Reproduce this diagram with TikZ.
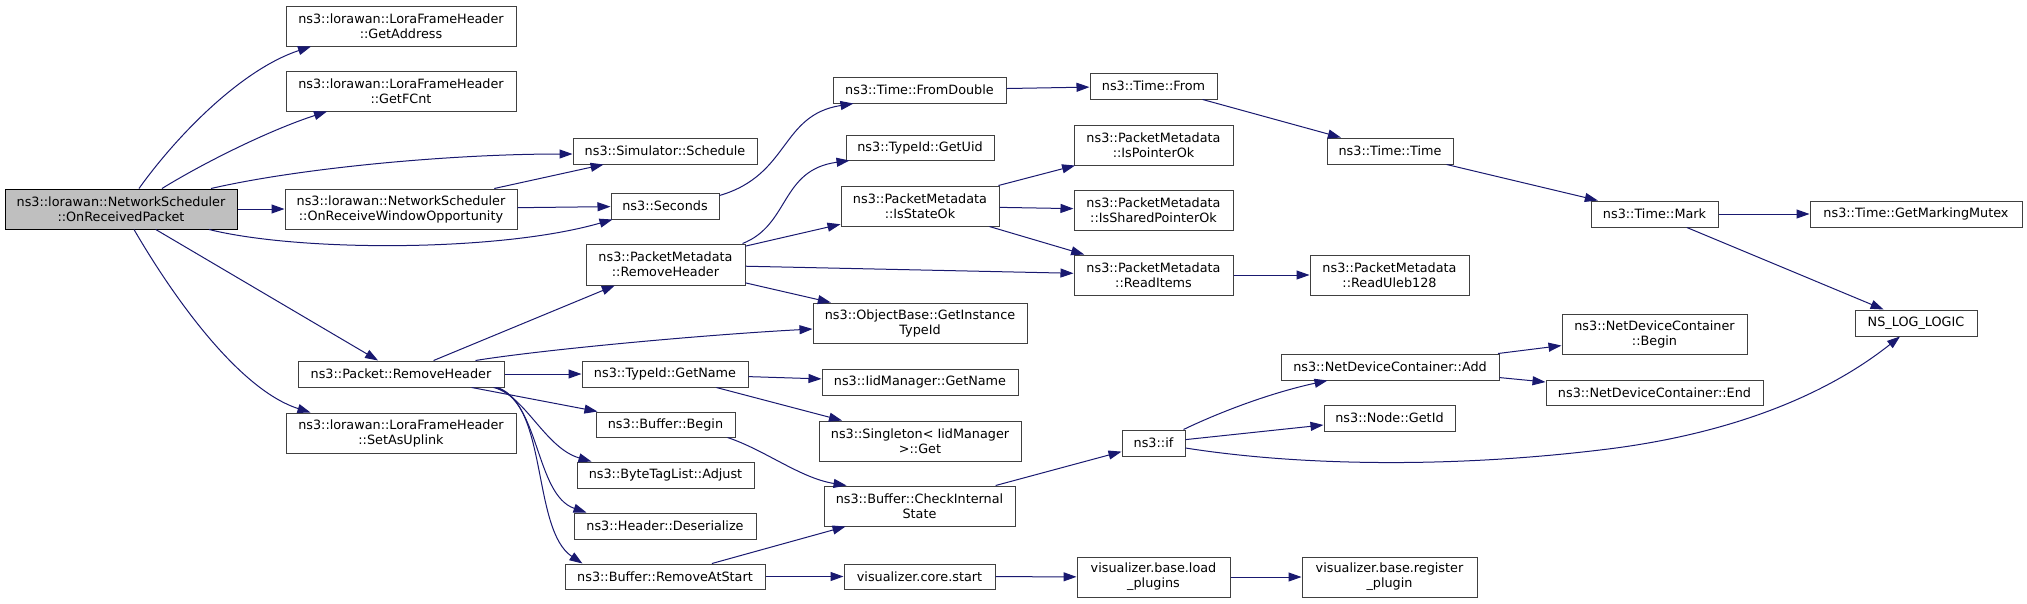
\documentclass[tikz,border=0pt]{standalone}
\usepackage{fontspec}
\setmainfont{DejaVu Sans}
\usetikzlibrary{arrows.meta}
\definecolor{edgec}{HTML}{191970}
\definecolor{boxc}{HTML}{404040}
\definecolor{rootc}{HTML}{BFBFBF}
\newcommand\nfont{\fontsize{12.8}{15}\selectfont}
\newcommand\mkbox[7][]{\node[box,#1,minimum width={#5-#3},minimum height={#6-#4}] (#2) at ({(#3+#5)/2},{(#4+#6)/2}) {#7};}
\tikzset{
  box/.style={draw=boxc, line width=1pt, fill=white, inner sep=0pt, align=center, font=\nfont},
  rootbox/.style={draw=black, fill=rootc},
  edge/.style={draw=edgec, line width=1pt, -{Triangle[length=13pt,width=9pt]}, edgec}
}
\begin{document}
\begin{tikzpicture}[x=1pt,y=-1pt]
\useasboundingbox[fill=white] (0,0) rectangle (2027,603);
% nodes
\mkbox[rootbox]{orp}{5}{189}{237}{229}{ns3::lorawan::NetworkScheduler\\::OnReceivedPacket}
\mkbox{addr}{286}{6}{516}{46}{ns3::lorawan::LoraFrameHeader\\::GetAddress}
\mkbox{fcnt}{286}{71}{516}{111}{ns3::lorawan::LoraFrameHeader\\::GetFCnt}
\mkbox{rwo}{285}{189}{517}{229}{ns3::lorawan::NetworkScheduler\\::OnReceiveWindowOpportunity}
\mkbox{prh}{298}{361}{504}{387}{ns3::Packet::RemoveHeader}
\mkbox{upl}{286}{413}{516}{453}{ns3::lorawan::LoraFrameHeader\\::SetAsUplink}
\mkbox{sched}{573}{138}{757}{164}{ns3::Simulator::Schedule}
\mkbox{sec}{611}{193}{719}{219}{ns3::Seconds}
\mkbox{pmrh}{586}{244}{745}{285}{ns3::PacketMetadata\\::RemoveHeader}
\mkbox{git}{813}{303}{1027}{343}{ns3::ObjectBase::GetInstance\\TypeId}
\mkbox{tgn}{582}{361}{748}{387}{ns3::TypeId::GetName}
\mkbox{bb}{596}{412}{735}{437}{ns3::Buffer::Begin}
\mkbox{bta}{577}{462}{754}{488}{ns3::ByteTagList::Adjust}
\mkbox{hd}{574}{513}{756}{539}{ns3::Header::Deserialize}
\mkbox{bras}{565}{564}{765}{589}{ns3::Buffer::RemoveAtStart}
\mkbox{fd}{833}{77}{1006}{103}{ns3::Time::FromDouble}
\mkbox{uid}{846}{135}{994}{160}{ns3::TypeId::GetUid}
\mkbox{iso}{841}{186}{999}{226}{ns3::PacketMetadata\\::IsStateOk}
\mkbox{iid}{822}{369}{1018}{395}{ns3::IidManager::GetName}
\mkbox{sing}{819}{421}{1021}{461}{ns3::Singleton< IidManager\\>::Get}
\mkbox{cis}{824}{486}{1015}{526}{ns3::Buffer::CheckInternal\\State}
\mkbox{cs}{844}{564}{995}{589}{visualizer.core.start}
\mkbox{tf}{1090}{73}{1217}{99}{ns3::Time::From}
\mkbox{ipo}{1074}{125}{1233}{165}{ns3::PacketMetadata\\::IsPointerOk}
\mkbox{ispo}{1074}{190}{1233}{230}{ns3::PacketMetadata\\::IsSharedPointerOk}
\mkbox{ri}{1074}{255}{1233}{295}{ns3::PacketMetadata\\::ReadItems}
\mkbox{nif}{1122}{430}{1185}{456}{ns3::if}
\mkbox{lp}{1077}{557}{1230}{597}{visualizer.base.load\\\_plugins}
\mkbox{tt}{1327}{138}{1453}{164}{ns3::Time::Time}
\mkbox{ru}{1310}{255}{1469}{295}{ns3::PacketMetadata\\::ReadUleb128}
\mkbox{add}{1281}{354}{1499}{380}{ns3::NetDeviceContainer::Add}
\mkbox{gid}{1324}{405}{1455}{431}{ns3::Node::GetId}
\mkbox{rp}{1302}{557}{1477}{597}{visualizer.base.register\\\_plugin}
\mkbox{mark}{1591}{201}{1718}{227}{ns3::Time::Mark}
\mkbox{ndcb}{1562}{314}{1747}{354}{ns3::NetDeviceContainer\\::Begin}
\mkbox{ndce}{1546}{380}{1763}{405}{ns3::NetDeviceContainer::End}
\mkbox{gmm}{1810}{201}{2022}{227}{ns3::Time::GetMarkingMutex}
\mkbox{nll}{1855}{310}{1977}{336}{NS\_LOG\_LOGIC}
\coordinate (via) at (1600,450);
% edges from root
\draw[edge] ([xshift=18pt]orp.north) .. controls (175,138) and (240,70) .. ([xshift=-90pt]addr.south);
\draw[edge] ([xshift=41pt]orp.north) .. controls (205,162) and (270,130) .. ([xshift=-74pt]fcnt.south);
\draw[edge] ([xshift=90pt]orp.north) .. controls (300,168) and (450,154) .. ([yshift=-3pt]sched.west);
\draw[edge] (orp) -- (rwo);
\draw[edge] ([xshift=88pt]orp.south) .. controls (300,252) and (500,252) .. ([xshift=2pt]sec.south west);
\draw[edge] (orp) -- (prh);
\draw[edge] ([xshift=13pt]orp.south) .. controls (175,300) and (240,390) .. ([xshift=25pt]upl.north west);
\draw[edge] (rwo) -- (sched);
\draw[edge] (rwo) -- (sec);
\draw[edge] ([yshift=-3pt]sec.north east) .. controls (790,175) and (780,115) .. ([xshift=21pt]fd.south west);
\draw[edge] (fd) -- (tf);
\draw[edge] (tf) -- (tt);
\draw[edge] (tt) -- (mark);
\draw[edge] (mark) -- (gmm);
\draw[edge] (mark) -- (nll);
% Packet::RemoveHeader
\draw[edge] (prh) -- (pmrh);
\draw[edge] ([xshift=-29pt]prh.north east) .. controls (540,350) and (700,335) .. ([yshift=-6pt]git.west);
\draw[edge] (prh) -- (tgn);
\draw[edge] (prh) -- (bb);
\draw[edge] ([xshift=-11pt]prh.south east) .. controls (525,395) and (545,448) .. ([xshift=15pt]bta.north west);
\draw[edge] ([xshift=-9pt]prh.south east) .. controls (540,400) and (535,495) .. ([xshift=13pt]hd.north west);
\draw[edge] ([xshift=-7pt]prh.south east) .. controls (548,405) and (532,530) .. ([xshift=18pt]bras.north west);
% PacketMetadata::RemoveHeader
\draw[edge] ([xshift=-3pt]pmrh.north east) .. controls (790,225) and (780,170) .. ([xshift=4pt]uid.south west);
\draw[edge] (pmrh) -- (iso);
\draw[edge] (pmrh) -- (ri);
\draw[edge] (pmrh) -- (git);
\draw[edge] (iso) -- (ipo);
\draw[edge] (iso) -- (ispo);
\draw[edge] (iso) -- (ri);
\draw[edge] (ri) -- (ru);
% TypeId / Buffer
\draw[edge] (tgn) -- (iid);
\draw[edge] (tgn) -- (sing);
\draw[edge] ([xshift=-8pt]bb.south east) .. controls (765,450) and (800,478) .. ([xshift=23pt]cis.north west);
\draw[edge] (bras) -- (cis);
\draw[edge] (bras) -- (cs);
\draw[edge] (cs) -- (lp);
\draw[edge] (lp) -- (rp);
\draw[edge] (cis) -- (nif);
% ns3::if
\draw[edge] ([xshift=-2pt]nif.north east) .. controls (1220,412) and (1270,393) .. ([xshift=47pt]add.south west);
\draw[edge] (nif) -- (gid);
\draw[edge] ([yshift=-5pt]nif.east) .. controls (1300,466) and (1450,468) .. (via) .. controls (1720,436) and (1820,400) .. ([xshift=-16pt]nll.south);
\draw[edge] (add) -- (ndcb);
\draw[edge] (add) -- (ndce);
\end{tikzpicture}
\end{document}
